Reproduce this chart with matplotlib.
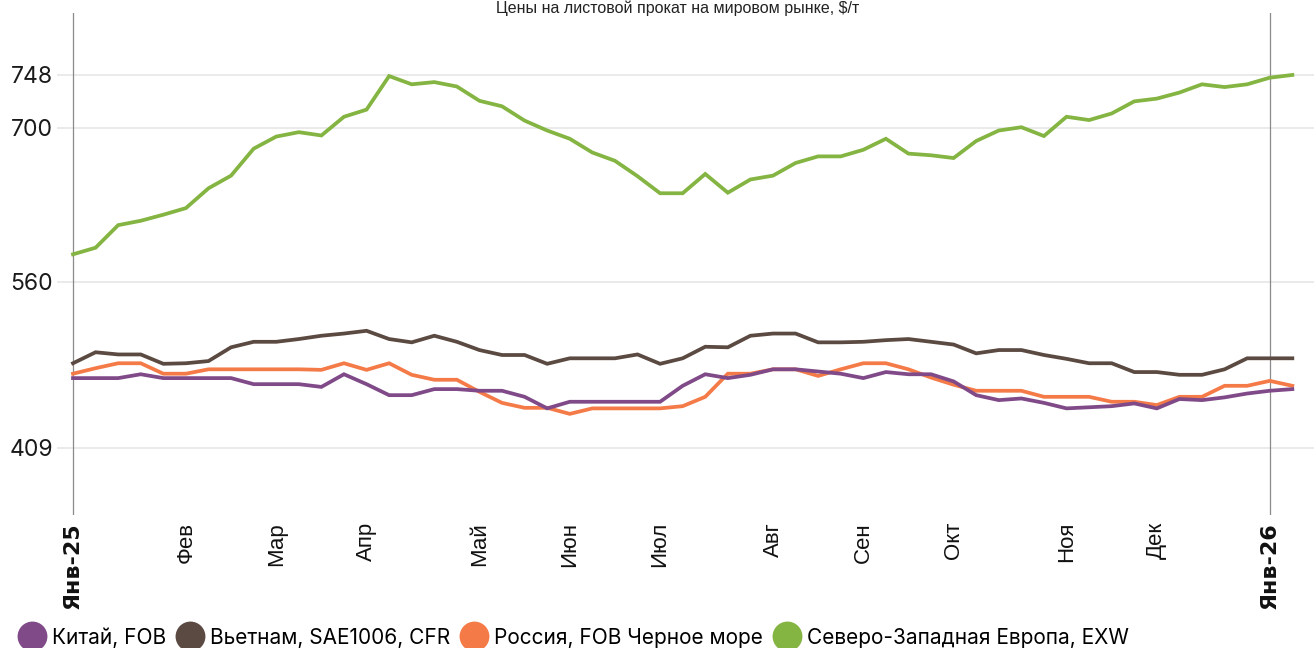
import matplotlib
matplotlib.use("Agg")
import matplotlib.pyplot as plt
from matplotlib.lines import Line2D

# ---- data ----
title = "Цены на листовой прокат на мировом рынке, $/т"
series_names = ["Китай, FOB", "Вьетнам, SAE1006, CFR", "Россия, FOB Черное море",
                "Северо-Западная Европа, EXW"]
colors = ["#804a89", "#5b4a42", "#f47b48", "#84b441"]

china = [472.5, 472.5, 472.5, 476, 472.5, 472.5, 472.5, 472.5, 467, 467,
         467, 464.5, 476, 467, 457, 457, 462.5, 462.5, 461, 461,
         455.5, 445, 451, 451, 451, 451, 451, 465.5, 476, 472.5,
         475.5, 480.5, 480.5, 478.5, 476.5, 472.5, 478, 476, 476, 469.5,
         457, 452.5, 454, 450, 445, 446, 447, 449.5, 445, 453.5,
         452.5, 455, 458.5, 461, 462.5]
vietnam = [486, 496, 494, 494, 485.5, 486, 488, 500.5, 505.5, 505.5,
           508, 511, 513, 515.5, 508, 505, 511, 505.5, 498, 493.5,
           493.5, 485.5, 490.5, 490.5, 490.5, 494, 485.5, 490.5, 501, 500.5,
           511, 513, 513, 505, 505, 505.5, 507, 508, 505.5, 503,
           495, 498, 498, 493.5, 490, 486, 486, 478, 478, 475.5,
           475.5, 480.5, 490.5, 490.5, 490.5]
russia = [476.5, 481.5, 486, 486, 476.5, 476.5, 480.5, 480.5, 480.5, 480.5,
          480.5, 480, 486, 480, 486, 475.5, 471, 471, 460, 450,
          445.5, 445.5, 440, 445, 445, 445, 445, 447, 455.5, 476.5,
          476.5, 480.5, 480.5, 474.5, 480.5, 486, 486, 480.5, 473, 466.5,
          461, 461, 461, 455.5, 455.5, 455.5, 451, 451, 448, 455.5,
          455.5, 465.5, 465.5, 470, 465.5]
nw_europe = [585, 591, 611.5, 615.5, 621, 627, 645, 656.5, 681, 692,
             696, 693, 710, 716.5, 747, 739.5, 741.5, 737.5, 724.5, 719.5,
             706.5, 697.5, 690, 677.5, 670, 656, 640.5, 640.5, 658, 641,
             653, 656.5, 668, 674, 674, 680, 690, 676.5, 675, 672.5,
             688, 697.5, 700.5, 692.5, 710, 707, 713, 724, 726.5, 732,
             739.5, 737, 739.5, 745.5, 748]
all_series = [china, vietnam, russia, nw_europe]

month_pos = [0, 5, 9, 13, 18, 22, 26, 31, 35, 39, 44, 48, 53]
month_labels = ["Янв-25", "Фев", "Мар", "Апр", "Май", "Июн", "Июл", "Авг",
                "Сен", "Окт", "Ноя", "Дек", "Янв-26"]
year_marks = [0, 53]
y_ticks = [409, 560, 700, 748]

# ---- figure ----
W, H = 1314, 648
fig = plt.figure(figsize=(W / 100, H / 100), dpi=100)
ax = fig.add_axes([57 / W, (H - 515) / H, (W - 57) / W, (515 - 13) / H])

geo_font = ["Inter", "DejaVu Sans"]
arial = ["Liberation Sans", "DejaVu Sans"]

x = list(range(len(china)))
zorders = [5, 3, 4, 2]
for vals, c, name, z in zip(all_series, colors, series_names, zorders):
    ax.plot(x, vals, color=c, lw=2.7, solid_joinstyle="miter", zorder=z, label=name)

for xm in year_marks:
    ax.axvline(xm, color="#8a8a8a", lw=0.9, zorder=1)

ax.set_xlim(-0.709, 54.96)
ax.set_ylim(348.1, 804.3)
ax.set_yticks(y_ticks)
ax.set_yticklabels([str(v) for v in y_ticks], family=geo_font, fontsize=16.5, color="#1a1a1a")
ax.yaxis.grid(True, color="#e8e8e8", lw=1.3, zorder=0)
ax.set_axisbelow(True)

ax.set_xticks(month_pos)
ax.set_xticklabels(month_labels, rotation=90, family=arial, fontsize=16, color="#111111",
                   va="top")
for i, lbl in enumerate(ax.get_xticklabels()):
    if i in (0, len(month_labels) - 1):
        lbl.set_family(["DejaVu Sans"])
        lbl.set_fontweight("bold")
        lbl.set_fontsize(16)

ax.tick_params(axis="both", length=0)
ax.tick_params(axis="x", pad=5)
ax.tick_params(axis="y", pad=3)
for s in ax.spines.values():
    s.set_visible(False)

fig.text(678 / W, 1.0, title, ha="center", va="top", fontsize=11.5,
         family=arial, color="#222222")

handles = [Line2D([], [], ls="none", marker="o", markersize=21.5, color=c,
                  markeredgewidth=0) for c in colors]
fs = 15
fpx = fs / 72 * 100
fig.legend(handles, series_names, loc="center left",
           bbox_to_anchor=(17 / W, (H - 638) / H), ncol=4, frameon=False,
           borderpad=0, borderaxespad=0, handlelength=30 / fpx,
           handletextpad=5 / fpx, columnspacing=9 / fpx, handleheight=1.0,
           prop={"family": geo_font, "size": fs})

fig.savefig("out.png", dpi=100)
